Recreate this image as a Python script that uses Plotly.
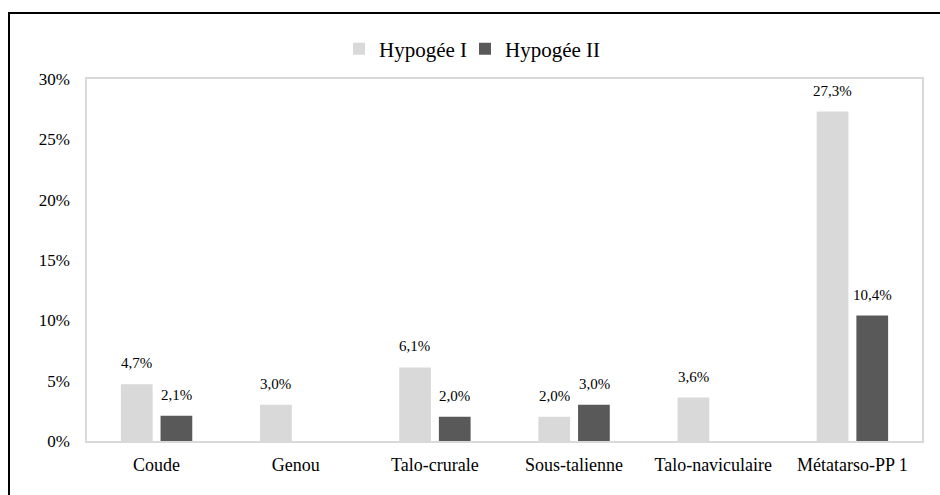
import plotly.graph_objects as go

# Articulations et pourcentages
categories = ['Coude', 'Genou', 'Talo-crurale', 'Sous-talienne', 'Talo-naviculaire', 'Métatarso-PP 1']
hypogee_1 = [4.7, 3.0, 6.1, 2.0, 3.6, 27.3]
hypogee_2 = [2.1, None, 2.0, 3.0, None, 10.4]
series_names = ['Hypogée I', 'Hypogée II']
y_tickvals = [0, 5, 10, 15, 20, 25, 30]
y_ticktext = ['0%', '5%', '10%', '15%', '20%', '25%', '30%']

colours = ['#d9d9d9', '#595959']
FONT = 'Liberation Serif'

W, H = 940, 495
ML, MR, MT, MB = 87, 18, 79, 54
pw, ph = W - ML - MR, H - MT - MB

fig = go.Figure()
# each series gets its own legend box so the two entries sit close together like the original
for name, vals, col, leg in zip(series_names, [hypogee_1, hypogee_2], colours, ['legend', 'legend2']):
    fig.add_trace(go.Bar(x=categories, y=vals, name=name, legend=leg,
                         marker=dict(color=col, line=dict(width=0))))

# data labels above each bar (comma decimals, as in the original)
annots = []
for vals, shift in [(hypogee_1, -20), (hypogee_2, 20)]:
    for cat, v in zip(categories, vals):
        if v is None:
            continue
        annots.append(dict(x=cat, y=v, xref='x', yref='y', text=f'{v:.1f}'.replace('.', ',') + '%',
                           showarrow=False, xshift=shift, yshift=11, yanchor='bottom',
                           font=dict(size=15, color='#000', family=FONT)))

# pixel -> paper helpers
def px_x(p):
    return (p - ML) / pw

def px_y(p):
    return (H - MB - p) / ph

# outer black frame around the whole chart
fig.add_shape(type='rect', xref='paper', yref='paper',
              x0=px_x(9), x1=px_x(960), y0=px_y(520), y1=px_y(13),
              line=dict(color='black', width=2), fillcolor='rgba(0,0,0,0)', layer='above')

leg_style = dict(orientation='h', xanchor='left', y=px_y(49), yanchor='middle',
                 font=dict(size=21, family=FONT), itemwidth=30, bgcolor='rgba(0,0,0,0)')

fig.update_layout(
    width=W, height=H,
    margin=dict(l=ML, r=MR, t=MT, b=MB),
    paper_bgcolor='white', plot_bgcolor='white',
    font=dict(family=FONT, color='#000'),
    barmode='group', bargap=0.43, bargroupgap=0.2,
    showlegend=True,
    legend=dict(x=px_x(339), **leg_style),
    legend2=dict(x=px_x(465), **leg_style),
    annotations=annots,
)
fig.update_xaxes(showline=True, linecolor='#d9d9d9', linewidth=2, mirror=True,
                 showgrid=False, ticks='', tickfont=dict(size=18, family=FONT),
                 ticklabelstandoff=6)
fig.update_yaxes(range=[0, 30], tickvals=y_tickvals, ticktext=y_ticktext,
                 showline=True, linecolor='#d9d9d9', linewidth=1.5, mirror=True,
                 showgrid=False, zeroline=False, ticks='', tickfont=dict(size=17, family=FONT),
                 ticklabelstandoff=12)

# drop the default page margin so the figure sits at the window origin
fig.write_html("out.html", config={'displayModeBar': False},
               post_script="document.body.style.margin='0';")
